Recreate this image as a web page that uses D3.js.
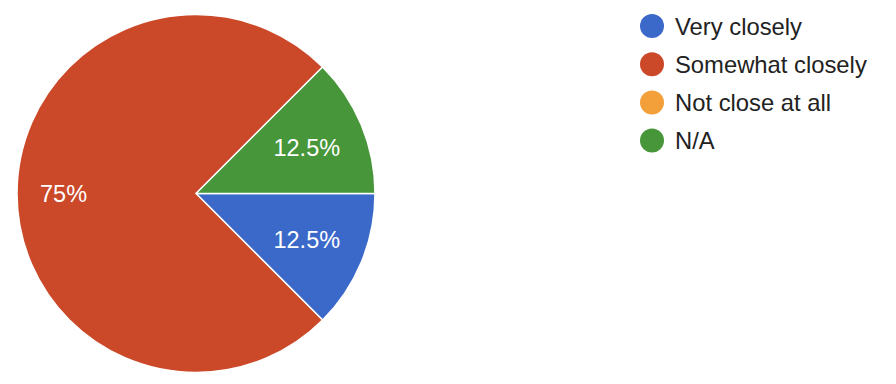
<!DOCTYPE html>
<html><head><meta charset="utf-8">
<script src="https://cdn.jsdelivr.net/npm/d3@7"></script>
<style>html,body{margin:0;padding:0;background:#fff;}svg{display:block;}</style>
</head><body>
<svg id="chart" width="896" height="384"></svg>
<script>
const categories = ["Very closely", "Somewhat closely", "Not close at all", "N/A"];
const values = [12.5, 75, 0, 12.5];
const labels = ["12.5%", "75%", "", "12.5%"];
const colors = ["#3b69c9", "#cb4828", "#f4a03a", "#47963a"];

const data = categories.map((c, i) => ({name: c, value: values[i], label: labels[i], color: colors[i]}));
const svg = d3.select("#chart");
const cx = 196, cy = 193.5, R = 179;
const font = "'Liberation Sans', Arial, sans-serif";

const pie = d3.pie().value(d => d.value).sort(null)
  .startAngle(Math.PI / 2).endAngle(Math.PI / 2 + 2 * Math.PI);
const arcs = pie(data);
const arc = d3.arc().innerRadius(0).outerRadius(R);
const g = svg.append("g").attr("transform", `translate(${cx},${cy})`);

g.selectAll("path").data(arcs.filter(a => a.data.value > 0)).join("path")
  .attr("d", arc).attr("fill", d => d.data.color)
  .attr("stroke", "#fff").attr("stroke-width", 1.5).attr("stroke-linejoin", "round");

g.selectAll("text.lbl").data(arcs.filter(a => a.data.value > 0)).join("text")
  .attr("class", "lbl")
  .each(function(d) {
    const lr = d.data.value > 50 ? 0.74 * R : 0.67 * R;
    const a = (d.startAngle + d.endAngle) / 2;
    d3.select(this).attr("x", Math.sin(a) * lr).attr("y", -Math.cos(a) * lr);
  })
  .attr("text-anchor", "middle").attr("dy", "0.36em")
  .attr("font-family", font).attr("font-size", 23.5).attr("fill", "#fff")
  .text(d => d.data.label);

const leg = svg.append("g").attr("transform", "translate(652,26)");
const rows = leg.selectAll("g").data(data).join("g")
  .attr("transform", (d, i) => `translate(0,${i * 38.2})`);
rows.append("circle").attr("r", 12).attr("fill", d => d.color);
rows.append("text").attr("x", 23).attr("y", 0).attr("dy", "0.36em")
  .attr("font-family", font).attr("font-size", 23.8).attr("fill", "#222")
  .text(d => d.name);
</script>
</body></html>
